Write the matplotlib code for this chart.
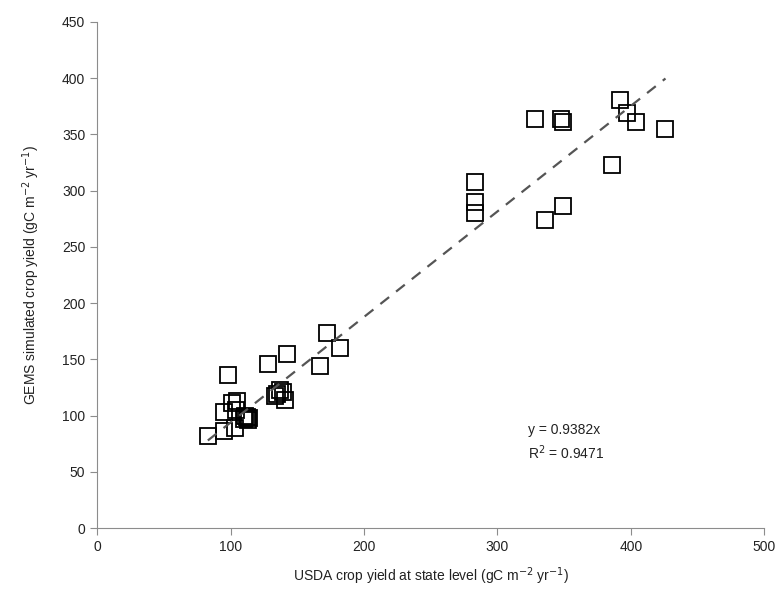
import matplotlib.pyplot as plt
import numpy as np

# USDA (x) vs GEMS (y) crop yield, gC m-2 yr-1
usda = [83, 95, 103, 95, 101, 105, 98, 104, 110, 112, 113, 111, 114,
        133, 135, 137, 139, 141, 128, 142, 167, 172, 182,
        283, 283, 283, 328, 348, 349, 392, 397, 404, 426, 386, 349, 336]
gems = [82, 86, 89, 103, 111, 113, 136, 105, 97, 99, 96, 100, 98,
        117, 119, 123, 121, 114, 146, 155, 144, 173, 160,
        308, 290, 280, 364, 364, 361, 381, 369, 361, 355, 323, 286, 274]
slope = 0.9382
r2 = 0.9471

plt.rcParams['font.family'] = ['Liberation Sans', 'DejaVu Sans']

fig = plt.figure(figsize=(7.83, 5.92), dpi=100)
ax = fig.add_axes([0.124, 0.108, 0.852, 0.855])

ax.plot(usda, gems, linestyle='none', marker='s', markersize=11,
        markerfacecolor='none', markeredgecolor='black', markeredgewidth=1.3)

# trend line through origin
xl = np.array([min(usda), max(usda)])
ax.plot(xl, slope * xl, color='#555555', linestyle=(0, (5, 4)), linewidth=1.6)

ax.text(323, 76, f'y = {slope}x\nR$^2$ = {r2}', fontsize=10, color='#222222',
        linespacing=1.4, va='center')

ax.set_xlim(0, 500)
ax.set_ylim(0, 450)
ax.set_xticks(range(0, 501, 100))
ax.set_yticks(range(0, 451, 50))

for s in ['top', 'right']:
    ax.spines[s].set_visible(False)
for s in ['left', 'bottom']:
    ax.spines[s].set_color('#8c8c8c')
ax.tick_params(axis='both', colors='#8c8c8c', labelcolor='#222222',
               labelsize=10, length=5, direction='out')

ax.set_xlabel('USDA crop yield at state level (gC m$^{-2}$ yr$^{-1}$)',
              fontsize=10, color='#222222', labelpad=8)
ax.set_ylabel('GEMS simulated crop yield (gC m$^{-2}$ yr$^{-1}$)',
              fontsize=10, color='#222222', labelpad=14)

fig.savefig('out.png', dpi=100)
